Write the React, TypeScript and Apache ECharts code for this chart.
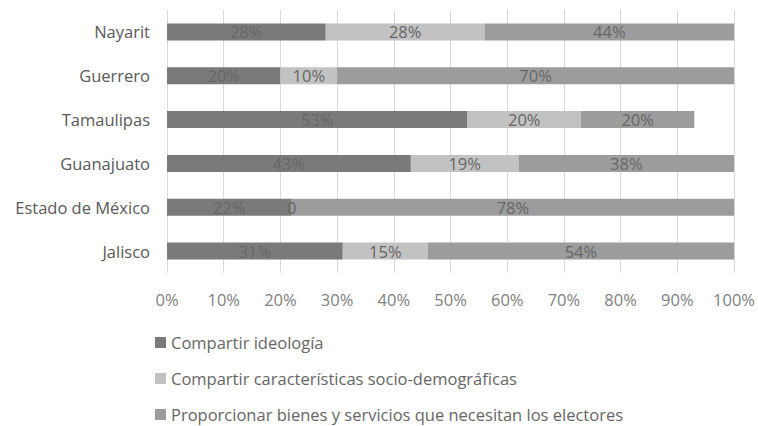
import React, { useEffect, useRef } from "react";
import * as echarts from "echarts";

const categories = ["Jalisco", "Estado de México", "Guanajuato", "Tamaulipas", "Guerrero", "Nayarit"];
const ideologia = [31, 22, 43, 53, 20, 28];
const sociodemo = [15, 0, 19, 20, 10, 28];
const bienes = [54, 78, 38, 20, 70, 44];
const seriesNames = [
  "Compartir ideología",
  "Compartir características socio-demográficas",
  "Proporcionar bienes y servicios que necesitan los electores",
];
const xTicks = [0, 10, 20, 30, 40, 50, 60, 70, 80, 90, 100];

const FONT = "Open Sans";
const FS = 16.5;

export default function App() {
  const ref = useRef<HTMLDivElement>(null);
  useEffect(() => {
    if (!ref.current) return;
    const chart = echarts.init(ref.current, undefined, { renderer: "svg" });
    const colors = ["#7a7a7a", "#c2c2c2", "#9c9c9c"];
    const label = {
      show: true,
      position: "inside",
      color: "#666666",
      fontFamily: FONT,
      fontSize: FS,
      formatter: (p: any) => (p.value === 0 ? "0" : p.value + "%"),
    };
    const datas = [ideologia, sociodemo, bienes];
    chart.setOption({
      animation: false,
      textStyle: { fontFamily: FONT },
      color: colors,
      grid: { left: 167, right: 22, top: 10, height: 263, containLabel: false },
      legend: {
        orient: "vertical",
        left: 155,
        top: 334,
        height: 150,
        icon: "rect",
        itemWidth: 11,
        itemHeight: 11,
        itemGap: 19,
        itemTextGap: 6,
        padding: 0,
        textStyle: { color: "#666", fontSize: FS, fontFamily: FONT },
        data: seriesNames,
      },
      xAxis: {
        type: "value",
        min: xTicks[0],
        max: xTicks[xTicks.length - 1],
        interval: 10,
        axisLine: { show: false },
        axisTick: { show: false },
        splitLine: { show: true, lineStyle: { color: "#d9d9d9", width: 1 } },
        axisLabel: {
          formatter: (v: number) => v + "%",
          color: "#808080",
          fontSize: FS,
          fontFamily: FONT,
          margin: 18,
        },
      },
      yAxis: {
        type: "category",
        data: categories,
        axisLine: { show: false },
        axisTick: { show: false },
        axisLabel: { color: "#595959", fontSize: FS, fontFamily: FONT, margin: 17 },
      },
      series: seriesNames.map((name, i) => ({
        name,
        type: "bar",
        stack: "total",
        barWidth: 17,
        data: datas[i],
        label,
        itemStyle: { color: colors[i] },
      })),
    });
    return () => chart.dispose();
  }, []);
  return <div ref={ref} style={{ width: 758, height: 426, position: "absolute", left: 0, top: 0, background: "#fff" }} />;
}
